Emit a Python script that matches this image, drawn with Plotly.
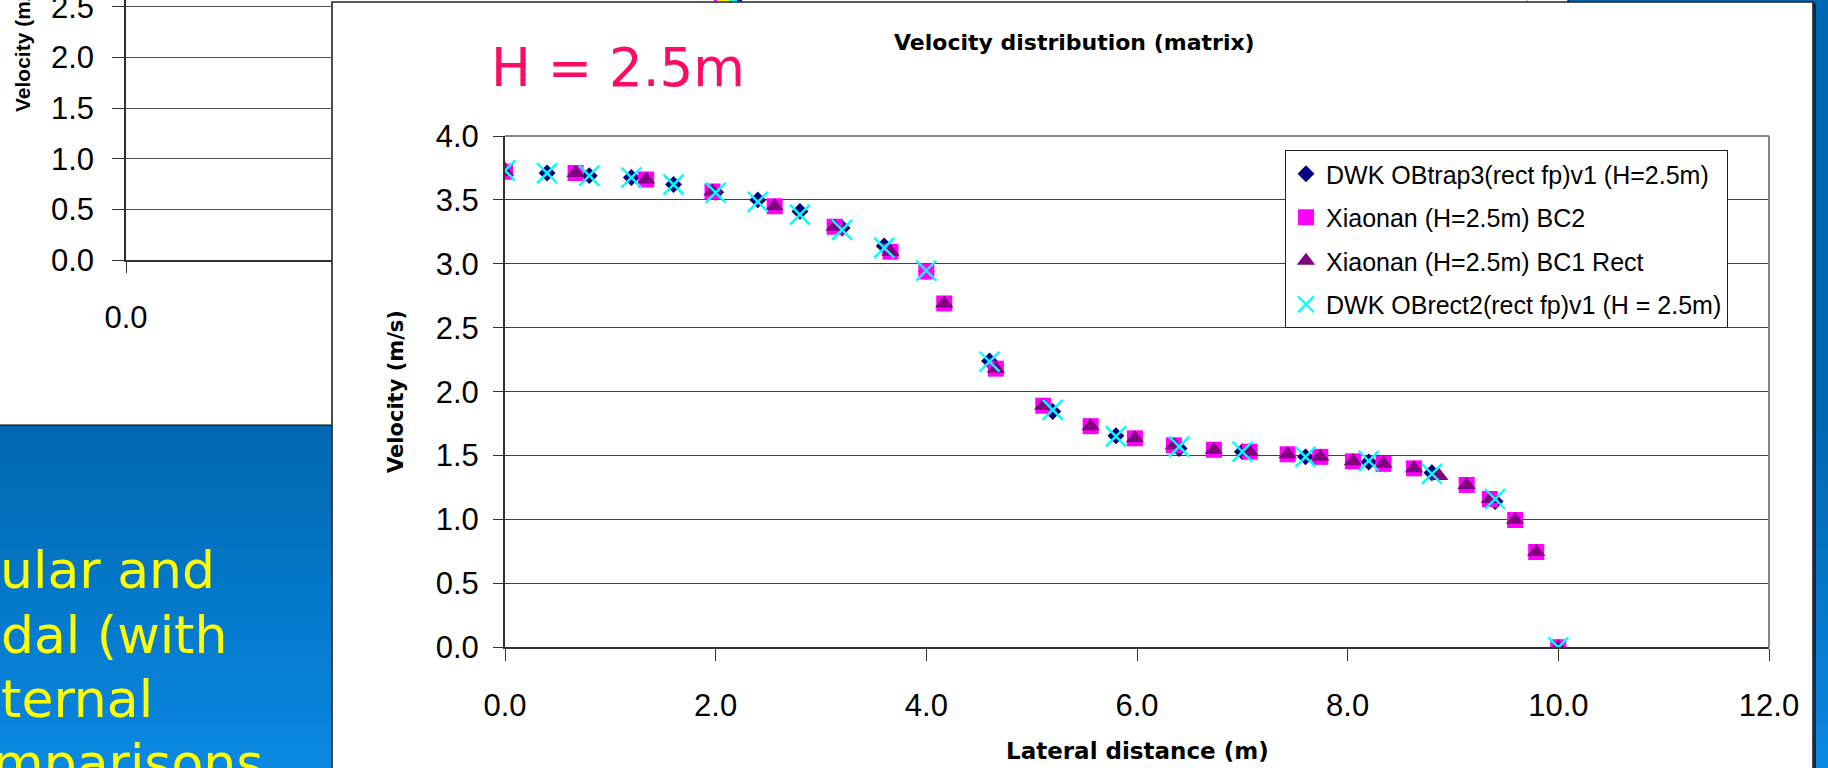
import plotly.graph_objects as go

W, H = 1828, 768

# ---- data -------------------------------------------------------------
# DWK runs share one lateral grid (m)
dwk_x = [0.0, 0.4, 0.8, 1.2, 1.6, 2.0, 2.4, 2.8, 3.2, 3.6, 4.0,
         4.6, 5.2, 5.8, 6.4, 7.0, 7.6, 8.2, 8.8, 9.4, 10.0]
trap3_v = [3.73, 3.71, 3.69, 3.675, 3.62, 3.56, 3.50, 3.41, 3.28, 3.14, 2.94,
           2.24, 1.845, 1.655, 1.555, 1.53, 1.49, 1.45, 1.365, 1.14, 0.0]
rect2_v = [3.73, 3.71, 3.69, 3.675, 3.62, 3.557, 3.485, 3.385, 3.265, 3.125, 2.947,
           2.235, 1.857, 1.65, 1.57, 1.53, 1.49, 1.458, 1.356, 1.16, 0.0]

# Xiaonan runs (H = 2.5 m)
bc2_x = [0.0, 0.67, 1.34, 1.97, 2.56, 3.13, 3.66, 4.0, 4.17, 4.66, 5.11, 5.56, 5.98,
         6.35, 6.73, 7.07, 7.43, 7.74, 8.05, 8.34, 8.63, 9.13, 9.35, 9.59, 9.79, 10.0]
bc2_v = [3.72, 3.71, 3.66, 3.565, 3.45, 3.29, 3.095, 2.94, 2.69, 2.18, 1.89, 1.73, 1.635,
         1.58, 1.545, 1.53, 1.51, 1.49, 1.455, 1.435, 1.40, 1.27, 1.16, 0.995, 0.745, 0.0]
bc1_x = [0.0, 0.67, 1.34, 1.97, 2.56, 3.13, 3.66, 4.17, 4.66, 5.11, 5.56, 5.98,
         6.35, 6.73, 7.07, 7.43, 7.74, 8.05, 8.34, 8.63, 8.87, 9.13, 9.35, 9.59, 9.79, 10.0]
bc1_v = [3.72, 3.71, 3.66, 3.565, 3.45, 3.29, 3.095, 2.69, 2.18, 1.89, 1.73, 1.635,
         1.58, 1.545, 1.53, 1.51, 1.49, 1.455, 1.435, 1.40, 1.34, 1.27, 1.16, 0.995, 0.745, 0.0]

series_names = [
    "DWK OBtrap3(rect fp)v1 (H=2.5m)",
    "Xiaonan (H=2.5m) BC2",
    "Xiaonan (H=2.5m) BC1 Rect",
    "DWK OBrect2(rect fp)v1 (H = 2.5m)",
]

x_ticks = [0, 2, 4, 6, 8, 10, 12]
y_ticks = [0.0, 0.5, 1.0, 1.5, 2.0, 2.5, 3.0, 3.5, 4.0]
back_y_ticks = [0.0, 0.5, 1.0, 1.5, 2.0, 2.5]

slide_text = ["ular and", "dal (with", "ternal", "mparisons"]


# ---- helpers: pixel -> paper ------------------------------------------
def px(x):
    return x / W


def py(y):
    return 1 - y / H


fig = go.Figure()

# main chart series
fig.add_trace(go.Scatter(
    x=dwk_x, y=trap3_v, mode="markers", name=series_names[0], legendgroup="a",
    marker=dict(symbol="diamond", size=13, color="#000080"),
    xaxis="x", yaxis="y"))
fig.add_trace(go.Scatter(
    x=bc2_x, y=bc2_v, mode="markers", name=series_names[1], legendgroup="b",
    marker=dict(symbol="square", size=16, color="#FF00FF"),
    xaxis="x", yaxis="y"))
fig.add_trace(go.Scatter(
    x=bc1_x, y=bc1_v, mode="markers", name=series_names[2], legendgroup="c",
    marker=dict(symbol="triangle-up", size=16, color="#800080"),
    xaxis="x", yaxis="y"))
fig.add_trace(go.Scatter(
    x=dwk_x, y=rect2_v, mode="markers", name=series_names[3], legendgroup="d",
    marker=dict(symbol="x-thin", size=20, color="#00FFFF",
                line=dict(width=2.4, color="#00FFFF")),
    xaxis="x", yaxis="y"))

# empty trace to build the partly hidden chart behind the main panel
fig.add_trace(go.Scatter(x=[], y=[], showlegend=False, xaxis="x2", yaxis="y2"))

tick_font = dict(family="Liberation Sans, Arial", size=31, color="black")

fig.update_layout(
    template="none",
    width=W, height=H,
    margin=dict(l=0, r=0, t=0, b=0, pad=0),
    paper_bgcolor="#0067B2",
    plot_bgcolor="rgba(0,0,0,0)",
    showlegend=True,
    hovermode=False,
    legend=dict(
        x=px(1285), y=py(150), xanchor="left", yanchor="top",
        bgcolor="white", bordercolor="#202020", borderwidth=1,
        font=dict(family="Liberation Sans, Arial", size=25, color="black"),
        tracegroupgap=8, traceorder="grouped",
    ),
    xaxis=dict(
        domain=[px(505), px(1769)], range=[0, 12], tickvals=x_ticks,
        tickformat=".1f", showgrid=False, zeroline=False, automargin=False,
        showline=True, linecolor="#303030", linewidth=2,
        ticks="outside", ticklen=12, tickcolor="#303030", tickwidth=1,
        tickfont=tick_font, ticklabelstandoff=17, anchor="y",
    ),
    yaxis=dict(
        domain=[py(647.3), py(136)], range=[0, 4], tickvals=y_ticks,
        tickformat=".1f", showgrid=True, gridcolor="#404040", gridwidth=1.3,
        zeroline=False, showline=True, linecolor="#303030", linewidth=2,
        automargin=False,
        ticks="outside", ticklen=10, tickcolor="#303030", tickwidth=1,
        tickfont=tick_font, ticklabelstandoff=8, anchor="x",
    ),
    xaxis2=dict(
        domain=[px(126), px(332)], range=[0, 1.9], tickvals=[0],
        tickformat=".1f", showgrid=False, zeroline=False, automargin=False,
        showline=True, linecolor="#303030", linewidth=1.5,
        ticks="outside", ticklen=11, tickcolor="#303030",
        tickfont=tick_font, ticklabelstandoff=18, anchor="y2",
    ),
    yaxis2=dict(
        domain=[py(260), 1.0], range=[0, 2.569], tickvals=back_y_ticks,
        tickformat=".1f", showgrid=True, gridcolor="#505050", gridwidth=1.2,
        zeroline=False, showline=True, linecolor="#303030", linewidth=1.5,
        automargin=False, ticklabeloverflow="allow",
        ticks="outside", ticklen=12, tickcolor="#303030",
        tickfont=tick_font, ticklabelstandoff=12, anchor="x2",
    ),
)

shapes = []

# slide background: flat blue on top, gradient toward the bottom
top_rgb = (0, 103, 178)
bot_rgb = (10, 136, 224)
y0, y1, n = 420, 768, 30
for i in range(n):
    t = i / (n - 1)
    c = tuple(round(a + (b - a) * t) for a, b in zip(top_rgb, bot_rgb))
    ya = y0 + (y1 - y0) * i / n
    yb = y0 + (y1 - y0) * (i + 1) / n + 1
    shapes.append(dict(type="rect", xref="paper", yref="paper", layer="below",
                       x0=0, x1=1, y0=py(yb), y1=py(ya), line=dict(width=0),
                       fillcolor="rgb(%d,%d,%d)" % c))

# chart sitting behind the main panel
shapes.append(dict(type="rect", xref="paper", yref="paper", layer="below",
                   x0=px(-5), x1=px(1568), y0=py(425), y1=py(-5),
                   fillcolor="white", line=dict(color="black", width=1.2)))
shapes.append(dict(type="line", xref="paper", yref="paper", layer="below",
                   x0=px(1527), x1=px(1527), y0=py(2), y1=1,
                   line=dict(color="#909090", width=1)))
for xa, xb, col in [(714, 717, "#FF00FF"), (717, 729, "#FFFF00"),
                    (729, 737, "#00FFFF"), (737, 742, "#000080")]:
    shapes.append(dict(type="rect", xref="paper", yref="paper", layer="below",
                       x0=px(xa), x1=px(xb), y0=py(1.6), y1=1,
                       fillcolor=col, line=dict(width=0)))

# main chart panel
shapes.append(dict(type="rect", xref="paper", yref="paper", layer="below",
                   x0=px(332), x1=px(1813), y0=py(775), y1=py(2),
                   fillcolor="white", line=dict(color="#202020", width=1.6)))
shapes.append(dict(type="line", xref="paper", yref="paper", layer="below",
                   x0=px(1815), x1=px(1815), y0=0, y1=py(3),
                   line=dict(color="#0A2A50", width=2)))

# plot-area frame (top and right)
shapes.append(dict(type="line", xref="x domain", yref="y domain", layer="above",
                   x0=0, x1=1, y0=1, y1=1, line=dict(color="#858585", width=2.2)))
shapes.append(dict(type="line", xref="x domain", yref="y domain", layer="above",
                   x0=1, x1=1, y0=0, y1=1, line=dict(color="#858585", width=2)))

fig.update_layout(shapes=shapes)

ann = []
ann.append(dict(text="<b>Velocity distribution (matrix)</b>", xref="paper", yref="paper",
                x=px(1074), y=py(42), xanchor="center", yanchor="middle", showarrow=False,
                font=dict(family="DejaVu Sans", size=22, color="black")))
ann.append(dict(text="<b>Lateral distance (m)</b>", xref="paper", yref="paper",
                x=px(1137), y=py(751), xanchor="center", yanchor="middle", showarrow=False,
                font=dict(family="DejaVu Sans", size=23, color="black")))
ann.append(dict(text="<b>Velocity (m/s)</b>", xref="paper", yref="paper",
                x=px(396), y=py(392), xanchor="center", yanchor="middle", showarrow=False,
                textangle=-90, font=dict(family="DejaVu Sans", size=21, color="black")))
ann.append(dict(text="H = 2.5m", xref="paper", yref="paper",
                x=px(489), y=py(68), xanchor="left", yanchor="middle", showarrow=False,
                font=dict(family="DejaVu Sans", size=53, color="#FF0A64")))
# y title of the chart behind
ann.append(dict(text="<b>Velocity (m/s)</b>", xref="paper", yref="paper",
                x=px(22), y=py(45), xanchor="center", yanchor="middle", showarrow=False,
                textangle=-90, font=dict(family="Liberation Sans, Arial", size=21, color="black")))

# slide body text, cut by the left edge
for txt, cy, xl in zip(slide_text, [570, 635, 699, 763], [-1, 0, 0, -8]):
    ann.append(dict(text=txt, xref="paper", yref="paper", x=px(xl), y=py(cy),
                    xanchor="left", yanchor="middle", showarrow=False, borderpad=0,
                    font=dict(family="DejaVu Sans", size=52, color="#FFFF00")))

fig.update_layout(annotations=ann)

fig.write_html("out.html")
